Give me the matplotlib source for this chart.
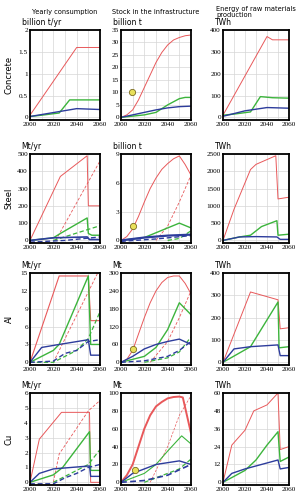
import matplotlib
matplotlib.use('Agg')
import matplotlib.pyplot as plt

# Цвета сценариев
RED = '#e8585a'
GREEN = '#3cb43c'
BLUE = '#2d3c9c'

# ---- данные ----
# Concrete
con_use_red = ([2000, 2040, 2060], [0.05, 1.6, 1.6])
con_use_green = ([2000, 2010, 2025, 2034, 2060], [0.02, 0.05, 0.1, 0.4, 0.4])
con_use_blue = ([2000, 2040, 2060], [0.02, 0.2, 0.18])
con_stock_red = ([2000, 2005, 2010, 2015, 2020, 2025, 2030, 2035, 2040, 2045, 2050, 2055, 2060],
                 [0, 1, 3, 7, 12, 17, 22, 26, 29, 31, 32, 32.7, 33])
con_stock_green = ([2000, 2020, 2030, 2040, 2050, 2055, 2060], [0, 1, 2, 5, 7.5, 8, 8])
con_stock_blue = ([2000, 2020, 2030, 2040, 2050, 2060], [0, 2, 3, 3.8, 4.3, 4.5])
con_en_red = ([2000, 2040, 2045, 2060], [10, 370, 355, 355])
con_en_green = ([2000, 2010, 2025, 2034, 2045, 2060], [10, 15, 25, 95, 90, 88])
con_en_blue = ([2000, 2020, 2040, 2060], [5, 30, 45, 42])

# Steel
st_use_red = ([2000, 2026, 2049, 2050, 2060], [0, 370, 490, 200, 200])
st_use_red_d = ([2022, 2060], [0, 460])
st_use_green = ([2000, 2020, 2026, 2049, 2050, 2053, 2060], [0, 15, 40, 130, 40, 30, 30])
st_use_green_d = ([2020, 2060], [0, 85])
st_use_blue = ([2000, 2020, 2049, 2051, 2060], [0, 15, 20, 5, 5])
st_use_blue_d = ([2000, 2030, 2060], [-10, 0, 20])
st_stock_red = ([2000, 2005, 2010, 2015, 2020, 2025, 2030, 2035, 2040, 2045, 2050, 2055, 2060],
                [0, 0.4, 1.2, 2.5, 4, 5.4, 6.5, 7.4, 8, 8.5, 8.8, 7.9, 6.8])
st_stock_red_d = ([2030, 2040, 2050, 2060], [0, 1.5, 4, 6.8])
st_stock_green = ([2000, 2020, 2030, 2040, 2050, 2060], [0, 0.3, 0.8, 1.3, 1.8, 1.3])
st_stock_green_d = ([2040, 2050, 2060], [0, 0.2, 1])
st_stock_blue = ([2000, 2020, 2040, 2060], [0, 0.3, 0.5, 0.6])
st_stock_blue_d = ([2000, 2030, 2060], [-0.1, 0.15, 0.5])
st_en_red = ([2000, 2010, 2025, 2030, 2048, 2050, 2060], [0, 900, 2050, 2200, 2450, 1200, 1250])
st_en_green = ([2000, 2015, 2025, 2035, 2049, 2050, 2060], [0, 100, 150, 400, 570, 150, 180])
st_en_blue = ([2000, 2015, 2030, 2049, 2052, 2060], [0, 100, 110, 100, 30, 30])

# Al
al_use_red = ([2000, 2025, 2050, 2052, 2060], [0, 14.5, 14.5, 7, 7])
al_use_red_d = ([2020, 2058], [0, 15])
al_use_green = ([2000, 2020, 2025, 2050, 2052, 2060], [0, 2, 3, 14.5, 3, 3])
al_use_green_d = ([2000, 2020, 2040, 2050, 2060], [0, 0, 2, 4, 8.5])
al_use_blue = ([2000, 2010, 2025, 2050, 2052, 2060], [0, 2.5, 3, 3.8, 1.2, 1.2])
al_use_blue_d = ([2000, 2020, 2030, 2040, 2050, 2060], [0, 0.2, 1.5, 2, 3.5, 3.8])
al_stock_red = ([2000, 2005, 2010, 2015, 2020, 2025, 2030, 2035, 2040, 2045, 2050, 2055, 2060],
                [0, 10, 40, 95, 150, 200, 240, 268, 285, 290, 290, 265, 230])
al_stock_red_d = ([2025, 2040, 2050, 2060], [0, 70, 150, 240])
al_stock_green = ([2000, 2020, 2030, 2040, 2050, 2060], [0, 20, 50, 110, 200, 160])
al_stock_green_d = ([2020, 2040, 2050, 2060], [0, 15, 35, 85])
al_stock_blue = ([2000, 2010, 2020, 2030, 2040, 2050, 2060], [0, 20, 45, 60, 70, 78, 60])
al_stock_blue_d = ([2000, 2020, 2040, 2050, 2060], [0, 5, 20, 40, 70])
al_en_red = ([2000, 2025, 2050, 2052, 2060], [0, 315, 280, 150, 155])
al_en_green = ([2000, 2025, 2050, 2051, 2060], [0, 70, 270, 65, 70])
al_en_blue = ([2000, 2010, 2025, 2050, 2052, 2060], [0, 60, 70, 78, 30, 30])

# Cu
cu_use_red = ([2000, 2008, 2027, 2051, 2052, 2060], [0, 2.9, 4.7, 4.7, 0, 0])
cu_use_red_d = ([2020, 2025, 2050, 2060], [0, 1.9, 4.8, 5.5])
cu_use_green = ([2000, 2020, 2028, 2051, 2052, 2060], [0, 0.5, 1, 3.4, 0.8, 0.8])
cu_use_green_d = ([2020, 2040, 2050, 2060], [0, 0.8, 1.2, 2.2])
cu_use_blue = ([2000, 2008, 2020, 2051, 2052, 2060], [0, 0.6, 0.9, 1.1, 0.4, 0.4])
cu_use_blue_d = ([2000, 2020, 2030, 2040, 2050, 2060], [-0.1, -0.1, 0.3, 0.6, 1.0, 1.2])
cu_stock_red = ([2000, 2005, 2010, 2015, 2020, 2025, 2030, 2035, 2040, 2045, 2050, 2053, 2060],
                [0, 8, 20, 40, 60, 75, 85, 90, 94, 95.5, 96, 95, 55])
cu_stock_red_d = ([2025, 2040, 2050, 2060], [0, 40, 75, 97])
cu_stock_green = ([2000, 2020, 2030, 2040, 2052, 2060], [0, 10, 20, 35, 52, 43])
cu_stock_green_d = ([2020, 2040, 2050, 2060], [0, 10, 15, 26])
cu_stock_blue = ([2000, 2010, 2030, 2050, 2060], [0, 10, 20, 24, 20])
cu_stock_blue_d = ([2000, 2020, 2040, 2050, 2060], [0, 2, 8, 14, 20])
cu_en_red = ([2000, 2008, 2020, 2028, 2040, 2050, 2052, 2060], [0, 25, 35, 48, 52, 60, 22, 24])
cu_en_green = ([2000, 2020, 2030, 2040, 2050, 2052, 2060], [0, 8, 15, 25, 34, 14, 17])
cu_en_blue = ([2000, 2008, 2020, 2030, 2040, 2050, 2052, 2060], [0, 6, 9, 11, 13, 15, 9, 10])

# Жёлтые точки (текущий запас)
dots = {'con': (2009, 10), 'st': (2010, 1.5), 'al': (2010, 45), 'cu': (2012, 14)}

row_names = ['Concrete', 'Steel', 'Al', 'Cu']
col_titles = ['Yearly consumption', 'Stock in the infrastructure', 'Energy of raw materials\nproduction']
units = [['billion t/yr', 'billion t', 'TWh'],
         ['Mt/yr', 'billion t', 'TWh'],
         ['Mt/yr', 'Mt', 'TWh'],
         ['Mt/yr', 'Mt', 'TWh']]
yticks = [[[0, 0.5, 1, 1.5, 2], [0, 5, 10, 15, 20, 25, 30, 35], [0, 100, 200, 300, 400]],
          [[0, 100, 200, 300, 400, 500], [0, 3, 6, 9], [0, 500, 1000, 1500, 2000, 2500]],
          [[0, 3, 6, 9, 12, 15], [0, 60, 120, 180, 240, 300], [0, 100, 200, 300, 400]],
          [[0, 1, 2, 3, 4, 5, 6], [0, 20, 40, 60, 80, 100], [0, 12, 24, 36, 48, 60]]]

# линии: (данные, цвет, стиль, толщина)
lines = [
    [[(con_use_red, RED, '-', 0.7), (con_use_green, GREEN, '-', 1.0), (con_use_blue, BLUE, '-', 1.0)],
     [(con_stock_red, RED, '-', 0.7), (con_stock_green, GREEN, '-', 1.0), (con_stock_blue, BLUE, '-', 1.0)],
     [(con_en_red, RED, '-', 0.7), (con_en_green, GREEN, '-', 1.0), (con_en_blue, BLUE, '-', 1.0)]],
    [[(st_use_red, RED, '-', 0.7), (st_use_red_d, RED, '--', 0.6), (st_use_green, GREEN, '-', 1.0),
      (st_use_green_d, GREEN, '--', 0.9), (st_use_blue, BLUE, '-', 1.2), (st_use_blue_d, BLUE, '--', 1.0)],
     [(st_stock_red, RED, '-', 0.7), (st_stock_red_d, RED, '--', 0.6), (st_stock_green, GREEN, '-', 1.0),
      (st_stock_green_d, GREEN, '--', 0.9), (st_stock_blue, BLUE, '-', 1.6), (st_stock_blue_d, BLUE, '--', 1.0)],
     [(st_en_red, RED, '-', 0.7), (st_en_green, GREEN, '-', 1.0), (st_en_blue, BLUE, '-', 1.0)]],
    [[(al_use_red, RED, '-', 0.8), (al_use_red_d, RED, '--', 0.6), (al_use_green, GREEN, '-', 1.0),
      (al_use_green_d, GREEN, '--', 0.9), (al_use_blue, BLUE, '-', 1.0), (al_use_blue_d, BLUE, '--', 1.0)],
     [(al_stock_red, RED, '-', 0.7), (al_stock_red_d, RED, '--', 0.6), (al_stock_green, GREEN, '-', 1.0),
      (al_stock_green_d, GREEN, '--', 0.9), (al_stock_blue, BLUE, '-', 1.0), (al_stock_blue_d, BLUE, '--', 1.0)],
     [(al_en_red, RED, '-', 0.7), (al_en_green, GREEN, '-', 1.0), (al_en_blue, BLUE, '-', 1.0)]],
    [[(cu_use_red, RED, '-', 0.7), (cu_use_red_d, RED, '--', 0.6), (cu_use_green, GREEN, '-', 1.0),
      (cu_use_green_d, GREEN, '--', 0.9), (cu_use_blue, BLUE, '-', 1.0), (cu_use_blue_d, BLUE, '--', 1.0)],
     [(cu_stock_red, RED, '-', 1.4), (cu_stock_red_d, RED, '--', 0.5), (cu_stock_green, GREEN, '-', 0.8),
      (cu_stock_green_d, GREEN, '--', 0.9), (cu_stock_blue, BLUE, '-', 1.0), (cu_stock_blue_d, BLUE, '--', 1.2)],
     [(cu_en_red, RED, '-', 0.7), (cu_en_green, GREEN, '-', 1.0), (cu_en_blue, BLUE, '-', 1.0)]],
]
dot_keys = ['con', 'st', 'al', 'cu']

W, H = 301, 501
fig = plt.figure(figsize=(W / 100, H / 100), dpi=100)

col_left = [30, 121, 223]
col_width = [70, 70, 66]
row_top = [30, 154, 273, 393]
row_bot = [120, 243, 365, 485]

for r in range(4):
    for c in range(3):
        ax = fig.add_axes([col_left[c] / W, 1 - row_bot[r] / H,
                           col_width[c] / W, (row_bot[r] - row_top[r]) / H])
        for (xs, ys), col, ls, lw in lines[r][c]:
            ln, = ax.plot(xs, ys, color=col, linewidth=lw)
            if ls == '--':
                ln.set_dashes((3.5, 2))
        if c == 1:
            dx, dy = dots[dot_keys[r]]
            ax.plot(dx, dy, 'o', ms=4.5, mfc='#e8e05a', mec='#7a6a20', mew=0.6, zorder=5)
        yt = yticks[r][c]
        span = yt[-1] - yt[0]
        ax.set_ylim(-0.03 * span, yt[-1])
        ax.set_xlim(2000, 2060)
        ax.set_yticks(yt)
        ax.set_yticklabels([('%g' % v) for v in yt])
        ax.set_xticks([2000, 2020, 2040, 2060])
        ax.set_xticks([2010, 2030, 2050], minor=True)
        ax.grid(True, which='both', color='#d6d6d6', linewidth=0.5)
        ax.set_axisbelow(True)
        ax.tick_params(which='both', length=0, labelsize=5.2, pad=1.5)
        for lab in ax.get_xticklabels() + ax.get_yticklabels():
            lab.set_fontfamily('Liberation Serif')
        for s in ax.spines.values():
            s.set_linewidth(1.3)
        ax.text(-0.12, 1.03, units[r][c], transform=ax.transAxes, fontsize=5.5,
                ha='left', va='bottom', family='DejaVu Sans')

for c in range(3):
    cx = (col_left[c] + col_width[c] / 2) / W
    fig.text(cx, 1 - 12 / H, col_titles[c], fontsize=4.8, ha='center', va='center',
             multialignment='left', family='DejaVu Sans')

for r in range(4):
    cy = 1 - (row_top[r] + row_bot[r]) / 2 / H
    fig.text(9 / W, cy, row_names[r], rotation=90, fontsize=6, ha='center', va='center',
             family='DejaVu Sans')

fig.savefig('out.png', dpi=100)
